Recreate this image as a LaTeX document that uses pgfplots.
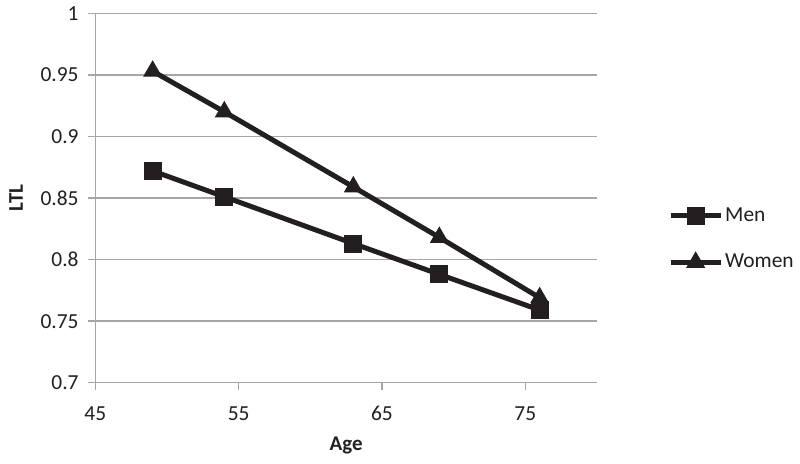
\documentclass[border=0pt]{standalone}
\usepackage{pgfplots}
\pgfplotsset{compat=1.18}
\usepackage{fontspec}
\setmainfont{Carlito}
\definecolor{ink}{HTML}{231F20}
\definecolor{gridgray}{HTML}{A6A6A6}
\begin{document}
\fontsize{21}{25}\selectfont
\begin{tikzpicture}
\begin{axis}[
  scale only axis,
  width=501.7bp, height=369.4bp,
  xmin=45, xmax=80, ymin=0.7, ymax=1,
  xtick={45,55,65,75},
  ytick={0.7,0.75,0.8,0.85,0.9,0.95,1},
  yticklabels={0.7,0.75,0.8,0.85,0.9,0.95,1},
  xticklabels={45,55,65,75},
  axis x line*=bottom, axis y line*=left,
  axis line style={gridgray, line width=1.3bp, -},
  tick align=outside,
  major tick length=7.5bp,
  tick style={gridgray, line width=1.3bp},
  ymajorgrids,
  major grid style={gridgray, line width=1.3bp},
  ticklabel style={text=ink, font=\fontsize{21.5}{25}\selectfont},
  /pgf/number format/assume math mode=true,
  xticklabel style={anchor=north, inner sep=0pt, yshift=-16bp},
  yticklabel style={anchor=east, inner sep=0pt, xshift=-9bp},
  xlabel={\textbf{Age}},
  ylabel={\textbf{LTL}},
  label style={text=ink, font=\fontsize{21}{25}\selectfont},
  xlabel style={at={(axis description cs:0.5,-0.1687)}, anchor=center},
  ylabel style={at={(axis description cs:-0.158,0.5)}, anchor=center, rotate=0},
  clip=false,
  legend style={draw=none, fill=none, at={(axis description cs:1.1415,0.389)}, anchor=west,
    inner sep=0pt, row sep=28bp, text=ink,
    font=\fontsize{21.5}{25}\selectfont,
    nodes={inner xsep=2bp, inner ysep=0pt}},
  legend cell align=left,
  legend image code/.code={
    \draw[mark repeat=2, mark phase=2] plot coordinates {(0bp,0bp) (25bp,0bp) (50bp,0bp)};
  },
]
\addplot[ink, line width=5bp, mark=square*, mark size=8.5bp, mark options={solid, line width=1pt}]
  coordinates {(49,0.872) (54,0.851) (63,0.813) (69,0.788) (76,0.759)};
\addlegendentry{Men}
\addplot[ink, line width=5bp, mark=triangle*, mark size=10bp, mark options={solid, line width=1pt}]
  coordinates {(49,0.953) (54,0.920) (63,0.859) (69,0.818) (76,0.769)};
\addlegendentry{Women}
\end{axis}
\pgfresetboundingbox
\path (current axis.south west) ++(-95.3bp,-81.3bp) rectangle ++(800bp,464bp);
\end{tikzpicture}
\end{document}
